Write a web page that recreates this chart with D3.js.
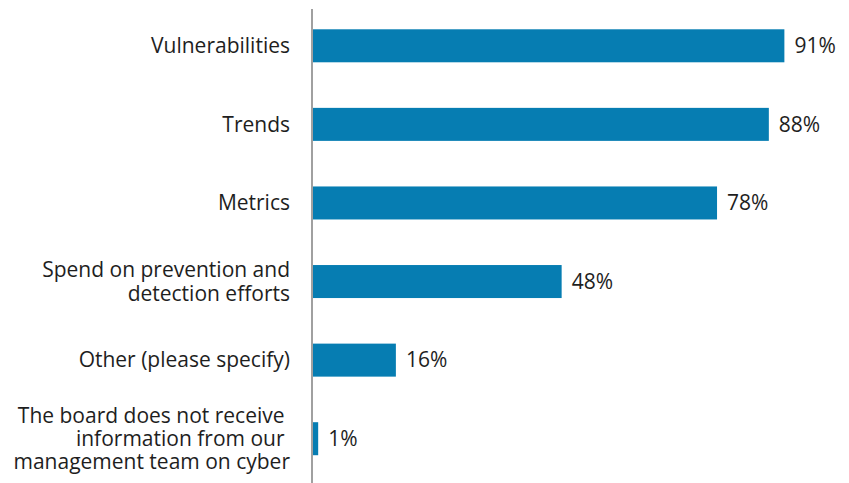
<!DOCTYPE html>
<html>
<head>
<meta charset="utf-8">
<script src="https://cdn.jsdelivr.net/npm/d3@7"></script>
<style>
  html, body { margin: 0; padding: 0; background: #fff; }
  text { font-family: "Open Sans", "Noto Sans", sans-serif; fill: #1e1e1e; }
</style>
</head>
<body>
<svg id="chart" width="849" height="483"></svg>
<script>
const categories = [
  ["Vulnerabilities"],
  ["Trends"],
  ["Metrics"],
  ["Spend on prevention and", "detection efforts"],
  ["Other (please specify)"],
  ["The board does not receive ", "information from our ", "management team on cyber"]
];
const values = [91, 88, 78, 48, 16, 1];
const valueLabels = ["91%", "88%", "78%", "48%", "16%", "1%"];

const W = 849, H = 483;
const svg = d3.select("#chart");
const keys = categories.map((c, i) => i);

const x = d3.scaleLinear().domain([0, 100]).range([313, 831]);
const y = d3.scaleBand().domain(keys).range([6.5, 478]).paddingInner(0.58).paddingOuter(0.29);

// bars
svg.selectAll("rect.bar").data(keys).enter().append("rect")
  .attr("class", "bar")
  .attr("x", x(0))
  .attr("y", d => y(d))
  .attr("width", d => x(values[d]) - x(0))
  .attr("height", y.bandwidth())
  .attr("fill", "#067db2");

// axis line
svg.append("line")
  .attr("x1", 312).attr("x2", 312)
  .attr("y1", 9).attr("y2", H)
  .attr("stroke", "#a0a0a0").attr("stroke-width", 2);

// category labels
const fs = 21, lh = 23.3;
keys.forEach(d => {
  const lines = categories[d];
  const cy = y(d) + y.bandwidth() / 2;
  const t = svg.append("text")
    .attr("text-anchor", "end")
    .attr("font-size", fs)
    .style("white-space", "pre")
    .attr("xml:space", "preserve");
  lines.forEach((ln, j) => {
    t.append("tspan")
      .attr("x", 290)
      .attr("y", cy + (j - (lines.length - 1) / 2) * lh)
      .attr("dy", "0.35em")
      .text(ln);
  });
});

// value labels
svg.selectAll("text.val").data(keys).enter().append("text")
  .attr("class", "val")
  .attr("x", d => x(values[d]) + 10)
  .attr("y", d => y(d) + y.bandwidth() / 2)
  .attr("dy", "0.35em")
  .attr("font-size", fs)
  .text(d => valueLabels[d]);
</script>
</body>
</html>
